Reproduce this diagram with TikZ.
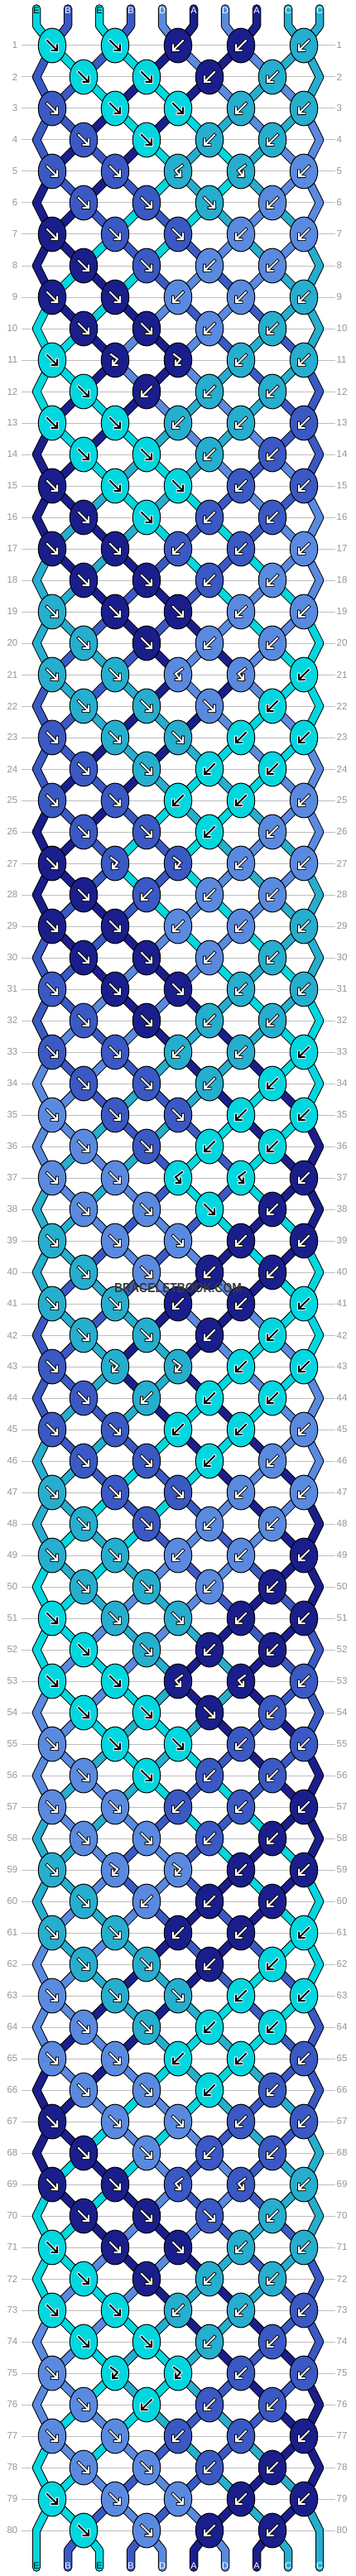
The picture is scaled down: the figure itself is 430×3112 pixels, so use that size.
\documentclass[tikz,border=0pt]{standalone}
\usepackage{fontspec}
\setmainfont{Liberation Sans}
\usetikzlibrary{shapes.geometric}
\definecolor{colE}{RGB}{0,216,224}
\definecolor{colB}{RGB}{58,89,196}
\definecolor{colD}{RGB}{90,138,224}
\definecolor{colA}{RGB}{26,30,140}
\definecolor{colC}{RGB}{38,174,206}
\definecolor{rowline}{RGB}{190,190,190}
\definecolor{numgray}{RGB}{150,150,150}
\definecolor{wmark}{RGB}{60,60,60}
\def\fgE{black}\def\bgE{white}
\def\fgB{white}\def\bgB{black}
\def\fgD{white}\def\bgD{black}
\def\fgA{white}\def\bgA{black}
\def\fgC{white}\def\bgC{black}
% knot types of the 16-row repeat: f forward, b backward, F forward-backward, B backward-forward
\expandafter\def\csname T1\endcsname{f,f,b,b,b}
\expandafter\def\csname T2\endcsname{f,f,b,b}
\expandafter\def\csname T3\endcsname{f,f,f,b,b}
\expandafter\def\csname T4\endcsname{f,f,b,b}
\expandafter\def\csname T5\endcsname{f,f,B,B,b}
\expandafter\def\csname T6\endcsname{f,f,f,b}
\expandafter\def\csname T7\endcsname{f,f,f,b,b}
\expandafter\def\csname T8\endcsname{f,f,b,b}
\expandafter\def\csname T9\endcsname{f,f,b,b,b}
\expandafter\def\csname T10\endcsname{f,f,b,b}
\expandafter\def\csname T11\endcsname{f,F,F,b,b}
\expandafter\def\csname T12\endcsname{f,b,b,b}
\expandafter\def\csname T13\endcsname{f,f,b,b,b}
\expandafter\def\csname T14\endcsname{f,f,b,b}
\expandafter\def\csname T15\endcsname{f,f,f,b,b}
\expandafter\def\csname T16\endcsname{f,f,b,b}
\def\apf{(-6,-6) -- (6,6) (-0.5,6) -- (6,6) -- (6,-0.5)}
\def\apb{(6,-6) -- (-6,6) (0.5,6) -- (-6,6) -- (-6,-0.5)}
\def\apF{(-5,-7) -- (3,-1) -- (-3,6) (2.5,6) -- (-3,6) -- (-3,0.5)}
\def\apB{(5,-7) -- (-3,-1) -- (3,6) (-2.5,6) -- (3,6) -- (3,0.5)}
% simulation of the strings
\foreach \ltr [count=\ii] in {E,B,E,B,D,A,D,A,C,C}{%
  \expandafter\xdef\csname s\ii\endcsname{\ltr}%
  \expandafter\xdef\csname S-0-\ii\endcsname{\ltr}}
\foreach \r in {1,...,80}{%
  \pgfmathtruncatemacro\pp{mod(\r-1,16)+1}%
  \pgfmathtruncatemacro\odd{mod(\r,2)}%
  \edef\tl{\csname T\pp\endcsname}%
  \foreach \ty [count=\j] in \tl {%
    \ifnum\odd=1 \pgfmathtruncatemacro\ia{2*\j-1}\else\pgfmathtruncatemacro\ia{2*\j}\fi
    \pgfmathtruncatemacro\ib{\ia+1}%
    \edef\lc{\csname s\ia\endcsname}\edef\rc{\csname s\ib\endcsname}%
    \def\sw{0}%
    \if\ty f\edef\kc{\lc}\def\sw{1}\fi
    \if\ty b\edef\kc{\rc}\def\sw{1}\fi
    \if\ty F\edef\kc{\lc}\fi
    \if\ty B\edef\kc{\rc}\fi
    \expandafter\xdef\csname K-\r-\j\endcsname{\kc}%
    \expandafter\xdef\csname Y-\r-\j\endcsname{\ty}%
    \ifnum\sw=1
      \expandafter\xdef\csname s\ia\endcsname{\rc}%
      \expandafter\xdef\csname s\ib\endcsname{\lc}%
    \fi
  }%
  \foreach \q in {1,...,10}{\expandafter\xdef\csname S-\r-\q\endcsname{\csname s\q\endcsname}}%
}
\def\setpos#1#2{%
  \pgfmathtruncatemacro\tmpodd{mod(#1,2)}%
  \ifnum\tmpodd=1
    \pgfmathtruncatemacro\tmpj{(#2+1)/2}\edef\pn{p-#1-\tmpj}%
  \else
    \ifnum#2=1 \edef\pn{v-#1-1}%
    \else\ifnum#2=10 \edef\pn{v-#1-10}%
    \else\pgfmathtruncatemacro\tmpj{#2/2}\edef\pn{p-#1-\tmpj}%
    \fi\fi
  \fi}
\tikzset{
  strout/.style={line width=10.5pt, draw=black, line cap=round, line join=round},
  strin/.style={line width=8.5pt, line cap=round, line join=round},
  knot/.style={ellipse, draw=black, line width=1pt, minimum width=33.5pt, minimum height=41.8pt, inner sep=0pt},
  arrout/.style={line width=3.8pt, line cap=rect, line join=miter},
  arrin/.style={line width=2pt, line cap=rect, line join=miter},
  rownum/.style={text=numgray, font=\fontsize{11.5}{12}\selectfont, inner sep=0pt},
  strlabel/.style={font=\fontsize{11}{11}\selectfont, inner sep=0pt},
  gridline/.style={draw=rowline, line width=1pt}
}
\begin{document}
\begin{tikzpicture}[x=1pt,y=-1pt]
\fill[white] (0,0) rectangle (430,3112);
\useasboundingbox (0,0) rectangle (430,3112);
% coordinates
\foreach \r in {1,...,80}{%
  \pgfmathsetmacro\yy{55+38*(\r-1)}%
  \pgfmathtruncatemacro\odd{mod(\r,2)}%
  \ifnum\odd=1
    \foreach \j in {1,...,5}{\coordinate (p-\r-\j) at ({63+76*(\j-1)},\yy);}
  \else
    \foreach \j in {1,...,4}{\coordinate (p-\r-\j) at ({101+76*(\j-1)},\yy);}
    \coordinate (v-\r-1) at (44,\yy);
    \coordinate (v-\r-10) at (386,\yy);
  \fi
  \draw[gridline] (26,\yy) -- (405,\yy);
  \node[rownum, anchor=east] (ln-\r) at (21.5,\yy) {\r};
  \node[rownum, anchor=west] (rn-\r) at (406.5,\yy) {\r};
}
\foreach \q in {1,...,10}{%
  \pgfmathsetmacro\xs{44+38*(\q-1)}%
  \coordinate (top-\q) at (\xs,10.5);
  \coordinate (topb-\q) at (\xs,31);
  \coordinate (bota-\q) at (\xs,3081);
  \coordinate (bot-\q) at (\xs,3101.5);
}
% strings
\foreach \pass in {1,2}{%
\foreach \r in {0,...,80}{%
 \pgfmathtruncatemacro\rn{\r+1}%
 \foreach \q in {1,...,10}{%
  \edef\sc{\csname S-\r-\q\endcsname}%
  \ifnum\pass=1 \tikzset{cur/.style={strout}}\else\tikzset{cur/.style={strin,draw=col\sc}}\fi
  \ifnum\r=0
    \setpos{1}{\q}%
    \draw[cur] (top-\q) -- (topb-\q) -- (\pn);
  \else\ifnum\r=80
    \setpos{80}{\q}%
    \draw[cur] (\pn) -- (bota-\q) -- (bot-\q);
  \else
    \setpos{\r}{\q}\let\pa\pn
    \setpos{\rn}{\q}\let\pb\pn
    \draw[cur] (\pa) -- (\pb);
  \fi\fi
 }}}
% knots
\foreach \r in {1,...,80}{%
  \pgfmathtruncatemacro\nk{4+mod(\r,2)}%
  \foreach \j in {1,...,\nk}{%
    \edef\kc{\csname K-\r-\j\endcsname}%
    \edef\tyy{\csname Y-\r-\j\endcsname}%
    \edef\afg{\csname fg\kc\endcsname}%
    \edef\abg{\csname bg\kc\endcsname}%
    \expandafter\let\expandafter\thisap\csname ap\tyy\endcsname
    \node[knot, fill=col\kc] (k-\r-\j) at (p-\r-\j) {};
    \draw[arrout, draw=\abg, shift={(p-\r-\j)}] \thisap;
    \draw[arrin, draw=\afg, shift={(p-\r-\j)}] \thisap;
  }}
% string letters
\foreach \ltr [count=\q] in {E,B,E,B,D,A,D,A,C,C}{%
  \pgfmathsetmacro\xs{44+38*(\q-1)}%
  \edef\lfg{\csname fg\ltr\endcsname}%
  \node[strlabel, text=\lfg] (tl-\q) at (\xs,12.5) {\ltr};
  \node[strlabel, text=\lfg] (bl-\q) at (\xs,3099.5) {\ltr};
}
\node[font=\bfseries\fontsize{16}{16}\selectfont, text=wmark, inner sep=0pt] (wm) at (215,1556) {\scalebox{0.87}[1]{BRACELETBOOK.COM}};
\end{tikzpicture}
\end{document}
